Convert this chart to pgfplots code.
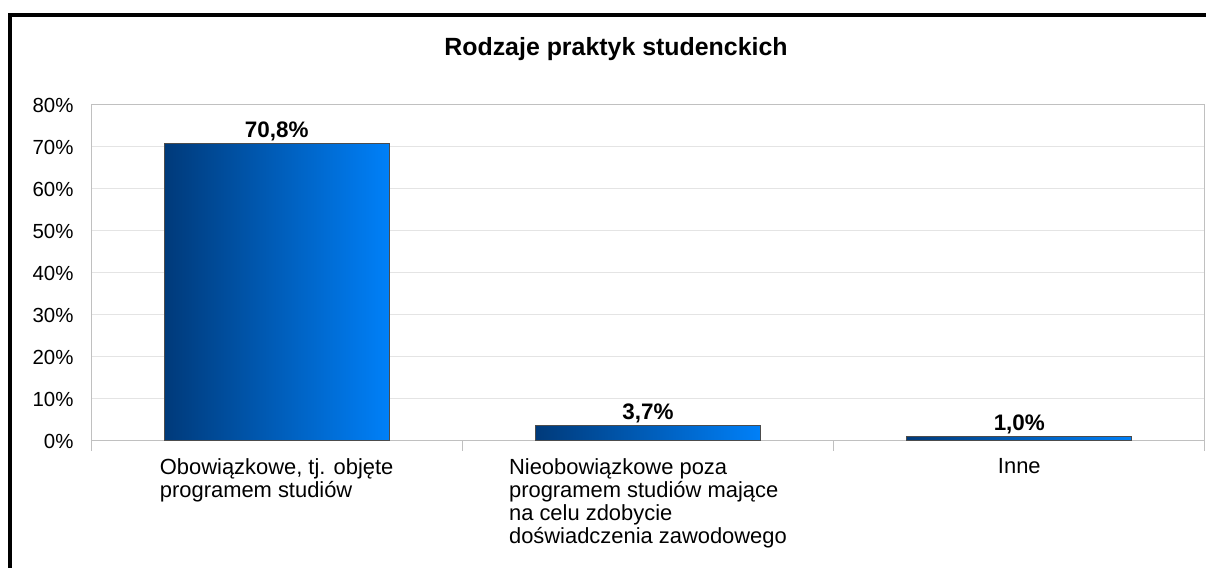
\documentclass[border=0pt]{standalone}
\usepackage{pgfplots}
\pgfplotsset{compat=1.18}
\usepackage{fontspec}
\setmainfont{Liberation Sans}
\definecolor{barL}{HTML}{003A7A}
\definecolor{barR}{HTML}{0080F8}
\definecolor{gridc}{HTML}{E4E4E4}
\definecolor{axc}{HTML}{C0C0C0}
\begin{document}
\begin{tikzpicture}
\path[use as bounding box] (0,0) rectangle (1206bp,568bp);
\draw[line width=4bp] (10bp,-5bp) -- (10bp,553bp) -- (1215bp,553bp);
\node[font=\fontsize{25}{28}\selectfont\bfseries] at (616bp,519bp) {Rodzaje praktyk studenckich};
\begin{axis}[
  at={(91bp,127bp)}, anchor=south west,
  scale only axis, width=1114bp, height=336bp,
  xmin=-0.5, xmax=2.5, ymin=0, ymax=80,
  xtick={0,1,2},
  xticklabels={{Obowiązkowe, tj. objęte\\programem studiów},{Nieobowiązkowe poza\\programem studiów mające\\na celu zdobycie\\doświadczenia zawodowego},{Inne}},
  minor xtick={-0.5,0.5,1.5,2.5},
  ytick={0,10,20,30,40,50,60,70,80},
  yticklabels={0\%,10\%,20\%,30\%,40\%,50\%,60\%,70\%,80\%},
  ymajorgrids, grid style={gridc, line width=1bp},
  axis line style={axc, line width=1bp},
  major tick length=0pt,
  minor tick length=10bp,
  tick align=outside,
  minor tick style={axc, line width=1bp},
  xtick pos=left, ytick pos=left,
  tick label style={font=\fontsize{20.5}{23}\selectfont},
  xticklabel style={font=\fontsize{22}{23}\selectfont, align=left, anchor=north, yshift=-14bp},
  yticklabel style={anchor=east, xshift=-14bp},
  ybar, bar width=0.606, bar shift=0pt,
  point meta=explicit symbolic,
  nodes near coords,
  every node near coord/.style={font=\fontsize{22.5}{25}\selectfont\bfseries, anchor=base, yshift=6bp, inner sep=0pt, color=black},
]
\addplot[draw=black!70, line width=1bp, left color=barL, right color=barR] coordinates {(0,70.8) [70,8\%]};
\addplot[draw=black!70, line width=1bp, left color=barL, right color=barR] coordinates {(1,3.7) [3,7\%]};
\addplot[draw=black!70, line width=1bp, left color=barL, right color=barR] coordinates {(2,1.0) [1,0\%]};
\end{axis}
\end{tikzpicture}
\end{document}
